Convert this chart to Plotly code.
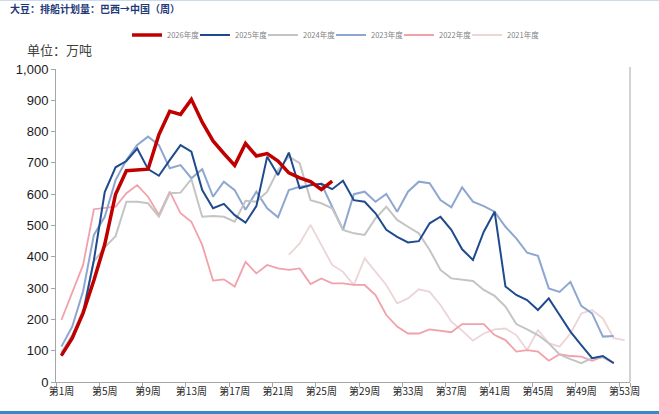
import plotly.graph_objects as go

# Week categories (x axis) and tick labels shown every 4 weeks
weeks = ["第%d周" % i for i in range(1, 54)]
tick_weeks = ["第1周", "第5周", "第9周", "第13周", "第17周", "第21周", "第25周",
              "第29周", "第33周", "第37周", "第41周", "第45周", "第49周", "第53周"]
y_ticks = [0, 100, 200, 300, 400, 500, 600, 700, 800, 900, 1000]

# Weekly Brazil -> China soybean shipment schedule (10k tonnes)
s2026 = [85, 140, 220, 325, 440, 600, 675, 678, 680, 790, 865, 855, 903,
         830, 770, 730, 692, 762, 722, 730, 706, 668, 652, 640, 615, 642]
s2025 = [83, 145, 219, 390, 607, 686, 706, 746, 680, 659, 709, 757, 736,
         613, 555, 569, 533, 509, 562, 720, 661, 733, 619, 629, 633, 616,
         643, 581, 576, 539, 486, 464, 446, 450, 507, 528, 486, 424, 390,
         480, 544, 305, 278, 262, 230, 267, 214, 161, 118, 76, 83, 60]
s2024 = [95, 150, 230, 385, 430, 466, 576, 576, 571, 528, 603, 605, 648,
         528, 530, 528, 512, 579, 576, 608, 677, 720, 699, 581, 571, 555,
         486, 475, 470, 523, 560, 518, 496, 475, 422, 358, 331, 326, 323,
         294, 275, 241, 185, 168, 150, 124, 88, 73, 60, 76, 79, 60]
s2023 = [113, 177, 290, 470, 528, 645, 709, 757, 784, 757, 683, 693, 651,
         680, 592, 640, 613, 550, 608, 555, 526, 613, 624, 629, 633, 560,
         486, 600, 608, 576, 601, 544, 608, 640, 635, 581, 558, 622, 576,
         562, 544, 496, 459, 413, 403, 299, 288, 320, 243, 219, 145, 147]
s2022 = [198, 283, 374, 552, 555, 560, 603, 629, 592, 534, 608, 539, 512,
         438, 324, 328, 305, 384, 347, 374, 363, 358, 363, 313, 331, 315,
         315, 310, 310, 278, 214, 177, 155, 155, 168, 164, 159, 185, 185,
         185, 150, 134, 97, 102, 97, 68, 89, 83, 81, 68, 81, 62]
# 2021 series only starts at week 22
s2021_weeks = weeks[21:]
s2021 = [406, 443, 502, 438, 374, 352, 310, 395, 352, 310, 251, 267, 296,
         288, 246, 193, 164, 132, 155, 168, 171, 150, 102, 166, 124, 113,
         155, 219, 230, 203, 140, 134]

W, H = 659, 414
L, R, T, B = 56, 29, 69, 32
plot_h = H - T - B
plot_w = W - L - R


def px_y(p):
    # pixel row -> paper y
    return (H - B - p) / plot_h


def px_x(p):
    return (p - L) / plot_w


fig = go.Figure()

# drawn back to front, legend shows newest year first
traces = [
    ("2021年度", s2021_weeks, s2021, "#ecd4d7", 1.8, 6),
    ("2022年度", weeks, s2022, "#f2a0aa", 1.8, 5),
    ("2023年度", weeks, s2023, "#8ea7d0", 2, 4),
    ("2024年度", weeks, s2024, "#c4c4c4", 2, 3),
    ("2025年度", weeks, s2025, "#1f4b8e", 2, 2),
    ("2026年度", weeks, s2026, "#c00000", 3.5, 1),
]
for name, xs, ys, color, width, rank in traces:
    fig.add_trace(go.Scatter(
        x=xs, y=ys, name=name, mode="lines",
        line=dict(color=color, width=width),
        legendrank=rank,
        # last legend entry gets room for its full label
        legendwidth=40 if rank == 6 else None,
    ))

fig.update_layout(
    width=W, height=H,
    margin=dict(l=L, r=R, t=T, b=B),
    paper_bgcolor="white", plot_bgcolor="white",
    showlegend=True,
    legend=dict(
        orientation="h",
        x=px_x(127), xanchor="left",
        y=px_y(35), yanchor="middle",
        font=dict(size=7.5, color="#7f7f7f", family="Noto Sans CJK SC"),
        itemwidth=30, entrywidth=23, entrywidthmode="pixels",
        bgcolor="rgba(0,0,0,0)",
    ),
    xaxis=dict(
        type="category",
        categoryorder="array", categoryarray=weeks,
        range=[-0.5, 52.5],
        tickmode="array", tickvals=tick_weeks, ticktext=tick_weeks,
        tickson="boundaries", tickangle=0, automargin=False,
        ticks="outside", ticklen=4, tickcolor="#a6a6a6",
        showline=True, linecolor="#a6a6a6", linewidth=1,
        showgrid=False, zeroline=False,
        tickfont=dict(size=10, color="#262626", family="Noto Sans CJK SC"),
    ),
    yaxis=dict(
        range=[0, 1000], automargin=False,
        tickmode="array", tickvals=y_ticks,
        tickformat=",d",
        ticks="outside", ticklen=4, tickcolor="#a6a6a6",
        showline=True, linecolor="#a6a6a6", linewidth=1,
        showgrid=False, zeroline=False,
        tickfont=dict(size=13, color="#1a1a1a", family="Liberation Sans"),
    ),
    annotations=[
        dict(text="<b>大豆：排船计划量：巴西→中国（周）</b>",
             xref="paper", yref="paper", x=px_x(8), y=px_y(8),
             xanchor="left", yanchor="middle", showarrow=False,
             font=dict(size=10, color="#1f3a78", family="Noto Sans CJK SC")),
        dict(text="单位：万吨",
             xref="paper", yref="paper", x=px_x(25), y=px_y(49),
             xanchor="left", yanchor="middle", showarrow=False,
             font=dict(size=13, color="#404040", family="Noto Sans CJK SC")),
    ],
    shapes=[
        # right border of the plot area
        dict(type="line", xref="paper", yref="paper", x0=1, x1=1,
             y0=0, y1=px_y(67), line=dict(color="#a6a6a6", width=1)),
        # thin frame line at top of the picture
        dict(type="line", xref="paper", yref="paper", x0=px_x(0), x1=px_x(W),
             y0=px_y(0.5), y1=px_y(0.5), line=dict(color="#c9dcef", width=1)),
        # blue bar at bottom of the picture
        dict(type="rect", xref="paper", yref="paper", x0=px_x(0), x1=px_x(W),
             y0=px_y(414), y1=px_y(411), fillcolor="#3b86c8",
             line=dict(width=0)),
    ],
)

# drop the default page margin so the figure sits at the window's corner
fig.write_html("out.html", config={"displayModeBar": False},
               post_script="document.body.style.margin='0';")
